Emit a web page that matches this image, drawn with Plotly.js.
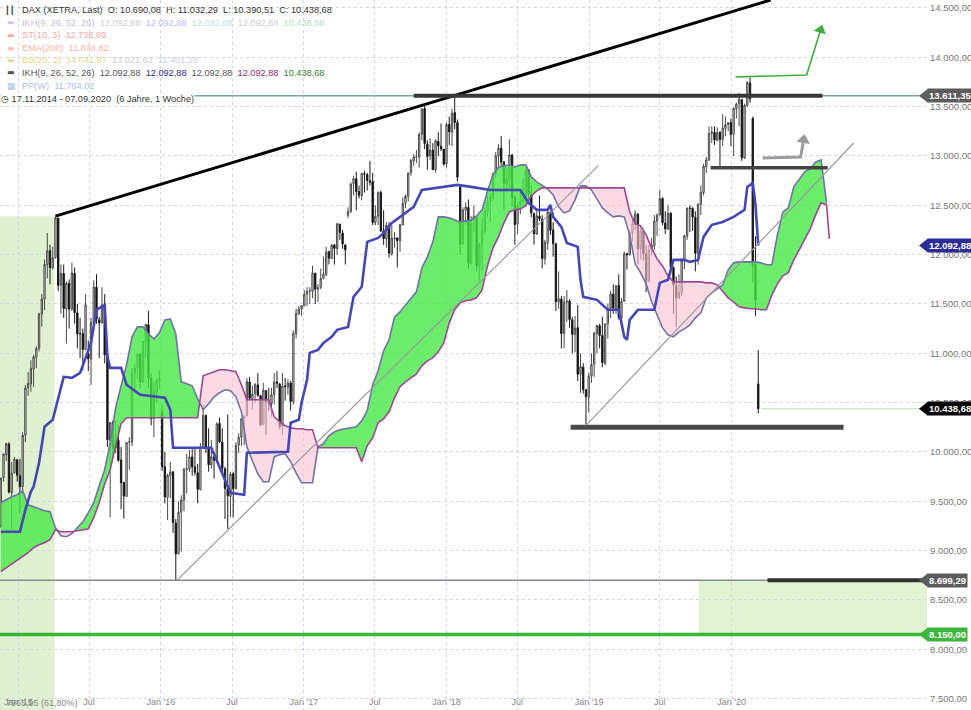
<!DOCTYPE html>
<html><head><meta charset="utf-8">
<script src="https://cdn.plot.ly/plotly-3.0.1.min.js"></script>
<style>html,body{margin:0;padding:0;background:#fff}#chart{width:971px;height:710px}</style>
</head><body><div id="chart"></div>
<script>
// ---------- DATA (weekly DAX candles, week 0 = 17.11.2014) ----------
const startDate = '2014-11-17';
const opens = [
9250,9740,9970,10080,9590,9790,9920,
9760,9650,10170,10650,10690,10840,10960,11050,11400,11550,11900,12040,11870,11970,12370,11690,11810,11450,11710,11450,11810,11410,11200,11200,11040,11000,10940,11310,11670,11340,11310,11490,10980,10120,10300,10040,10120,9920,9690,9550,10100,10100,10800,10850,10990,10710,11120,11290,10750,10340,10610,10730,
10410,9850,9540,9760,9800,9280,8970,9390,9510,9820,9830,9950,9850,9790,9620,10050,10370,10040,9870,9950,9920,10290,10100,9830,9630,9550,9780,9630,10070,10150,10340,10370,10710,10540,10590,10680,10570,10280,10620,10510,10490,10580,10710,10690,10260,10670,10660,10700,10510,11200,11400,11450,
11480,11600,11630,11630,11810,11650,11670,11760,11800,12030,11960,12100,12060,12310,12220,12100,12400,12440,12720,12770,12640,12600,12820,12810,12750,12740,12330,12390,12630,12240,12160,12300,12010,12160,12170,12140,12300,12520,12590,12830,12950,12990,12990,13220,13480,13120,13000,13060,12860,13150,13100,13070,
12920,13320,13240,13440,13340,12690,12110,12450,12480,11910,12350,12380,11880,12100,12240,12440,12540,12580,12820,13000,13080,12940,12720,12770,13010,12580,12310,12500,12540,12560,12860,12610,12420,12210,12390,12360,11960,12120,12430,12250,12110,11520,11550,11200,11520,11530,11340,11190,11260,10790,10860,10630,10560,
10770,10890,11200,11280,11180,10900,11300,11460,11600,11460,11690,11360,11530,12010,12000,12220,12310,12410,12060,12240,12010,11730,12050,12090,12340,12400,12570,12320,12260,12420,11870,11690,11560,11610,11940,12190,12470,12470,12380,12010,12510,12630,12890,12960,13230,13240,13160,13240,13170,13280,13320,13340,
13220,13480,13530,13570,12980,13510,13740,13380,11900,10690.08];
const highs = [
9744,9985,10093,10100,9900,9950,9930,
9930,10200,10680,10810,10930,10985,11070,11410,11600,11950,12220,12100,12080,12390,12375,11900,11900,11730,11750,11920,11870,11500,11360,11250,11600,11130,11360,11740,11802,11370,11670,11600,10990,10300,10320,10320,10270,10050,9700,10100,10150,10850,10890,11000,10995,11130,11300,11430,10800,10710,10740,10830,
10480,10000,9780,9900,9800,9320,9500,9560,9840,9980,10020,10050,10030,9880,10090,10486,10380,10240,10120,10000,10300,10350,10240,9850,10380,9800,9800,10100,10190,10340,10370,10750,10760,10670,10700,10800,10580,10700,10630,10650,10650,10800,10820,10700,10800,10750,10740,10720,11230,11450,11480,11490,
11640,11670,11670,11890,11820,11700,11860,11980,12080,12040,12110,12100,12320,12310,12250,12100,12480,12730,12800,12840,12700,12830,12850,12830,12951,12830,12500,12640,12650,12450,12330,12330,12300,12230,12170,12310,12580,12610,12830,12970,13020,13060,13240,13480,13525,13160,13180,13130,13170,13240,13330,13070,
13340,13400,13480,13597,13370,12690,12480,12530,12560,12390,12500,12380,12120,12370,12480,12600,12620,12830,13040,13120,13204,12950,12880,13170,13020,12600,12530,12640,12770,12880,12860,12700,12420,12440,12600,12400,12150,12440,12440,12330,12120,11830,11580,11580,11640,11550,11370,11380,11490,11000,10900,10640,10800,
11000,11220,11290,11300,11370,11300,11500,11630,11700,11690,11800,11560,12030,12020,12240,12360,12450,12420,12300,12250,12100,12100,12170,12400,12420,12656,12580,12440,12500,12430,11880,11780,11800,11960,12200,12480,12500,12480,12440,12520,12700,12920,12990,13300,13300,13300,13290,13250,13425,13400,13340,13380,
13490,13540,13640,13580,13530,13760,13795,13400,12185,11032.29];
const lows = [
9232,9700,9910,9580,9219,9780,9700,
9382,9580,10100,10570,10610,10660,10850,11020,11270,11440,11760,11700,11850,11960,11630,11400,11360,11100,11250,11430,11300,11050,10950,10827,11030,10820,10680,11240,11300,10950,11300,10900,10050,9338,9950,9990,9900,9420,9325,9550,9820,10060,10630,10750,10650,10700,10950,10650,10270,10150,10500,10640,
9810,9480,9310,9530,9180,8699,8960,8990,9400,9580,9800,9760,9760,9480,9610,10040,9990,9800,9830,9730,9900,10090,9800,9320,9220,9340,9340,9620,9990,10060,10070,10360,10520,10430,10500,10560,10260,10270,10175,10420,10360,10480,10650,10230,10170,10520,10580,10420,10480,11150,11390,11380,
11480,11480,11500,11560,11500,11520,11650,11750,11780,11900,11960,11900,12000,12150,12060,11900,12370,12420,12600,12450,12570,12550,12630,12650,12700,12300,12300,12300,12230,12100,12070,11970,11990,12070,11870,12030,12300,12470,12540,12800,12900,12930,12880,13160,13070,12860,12960,12860,12830,13000,13050,12900,
12880,13110,13100,13270,12740,12000,12100,12300,11860,11900,12230,11830,11730,11830,12210,12380,12330,12550,12780,12880,12880,12450,12640,12650,12490,12100,12210,12410,12480,12500,12520,12380,12100,12200,12340,11860,11900,12050,12200,11980,11430,11450,11050,11050,11320,11260,11000,11010,10720,10600,10590,10279,10400,
10700,10760,11000,11050,10860,10880,11150,11360,11400,11400,11340,11290,11520,11850,11990,12140,12250,11900,11950,11940,11620,11720,11990,12050,12190,12400,12300,12210,12250,11800,11400,11266,11550,11580,11850,12150,12230,12240,11830,11900,12400,12600,12830,12950,13130,13110,13150,12900,13100,13200,13250,13100,
13000,13380,13300,12950,12970,13500,13540,11720,11380,10390.51];
const closes = [
9732,9980,10087,9594,9786,9927,9764,
9648,10167,10649,10694,10846,10963,11050,11401,11550,11901,12039,11868,11967,12374,11688,11811,11454,11709,11447,11815,11413,11197,11197,11040,11492,10944,11315,11673,11347,11308,11490,10985,10124,10298,10038,10123,9916,9688,9553,10096,10104,10795,10850,10988,10708,11119,11293,10752,10340,10608,10727,10743,
9849,9545,9764,9798,9286,8967,9388,9513,9825,9831,9950,9851,9794,9622,10051,10374,10039,9870,9952,9917,10286,10103,9834,9631,9557,9776,9629,10066,10147,10337,10367,10713,10544,10587,10683,10573,10276,10626,10511,10490,10580,10711,10696,10259,10668,10664,10699,10513,11203,11404,11450,11481,
11599,11629,11630,11814,11651,11666,11757,11804,12027,11963,12095,12064,12313,12225,12109,12049,12438,12716,12770,12638,12602,12823,12816,12752,12733,12325,12389,12632,12240,12163,12297,12014,12165,12168,12142,12303,12519,12592,12828,12955,12991,12991,13217,13478,13127,12994,13060,12861,13153,13103,13072,12918,
13320,13245,13434,13340,12785,12107,12452,12483,11913,12346,12390,11887,12097,12241,12442,12540,12580,12819,13001,13077,12938,12724,12767,13011,12580,12306,12497,12541,12562,12860,12615,12424,12210,12394,12364,11960,12124,12431,12247,12111,11523,11554,11201,11519,11529,11342,11193,11257,10788,10866,10634,10559,10767,
10887,11205,11281,11181,10906,11299,11457,11602,11457,11685,11364,11526,12010,12000,12222,12315,12413,12060,12238,12011,11727,12045,12096,12340,12399,12568,12323,12260,12419,11872,11694,11563,11612,11939,12192,12469,12469,12381,12013,12512,12634,12894,12961,13229,13242,13163,13236,13166,13282,13318,13337,13219,
13483,13526,13576,12982,13514,13745,13579,11890,11541,10438.68];

// Ichimoku cloud (week index, Senkou Span A, Senkou Span B)
const cloudWeeks = [0,2,4,6,8,10,12,14,16,18,20,22,24,26,28,30,32,34,36,38,40,42,44,46,48,50,52,54,56,58,60,62,64,66,68,70,72,74,76,78,80,82,84,86,88,90,92,94,96,98,100,102,104,106,108,110,112,114,116,118,120,122,124,126,128,130,132,134,136,138,140,142,144,146,148,150,152,154,156,158,160,162,164,166,168,170,172,174,176,178,180,182,184,186,188,190,192,194,196,198,200,202,204,206,208,210,212,214,216,218,220,222,224,226,228,230,232,234,236,238,240,242,244,246,248,250,252,254,256,258,260,262,264,266,268,270,272,274,276,278,280,282,284,286,288,290,292,294,296,298,300,302,303];
const spanA = [
9486,9516,9546,9567,9607,9465,9445,9425,9405,9394,
9232,9151,9141,9172,9232,9293,9384,9486,9658,9820,
10093,10448,10671,10883,11167,11268,11268,11198,11147,11208,
11339,11349,11198,10711,10691,10671,10539,10428,10488,10559,
10600,10630,10620,10559,10407,10053,9911,9779,9698,9698,
9952,9972,9982,9901,9789,9688,9688,9688,10053,10083,
10164,10205,10225,10235,10245,10256,10316,10418,10681,10823,
11025,11137,11370,11420,11491,11552,11623,11866,11978,12130,
12383,12383,12373,12352,12332,12342,12352,12393,12454,12646,
12808,12889,12899,12910,12889,12910,12910,12788,12737,12697,
12666,12606,12484,12423,12444,12555,12697,12697,12656,12565,
12474,12423,12383,12393,12383,12201,11907,11816,11704,11522,
11380,11258,11187,11167,11218,11248,11289,11360,11410,11562,
11613,11653,11694,11846,11917,11927,11927,11927,11927,11917,
11897,11897,12201,12433,12474,12687,12758,12839,12869,12940,
12960,12525,null];
const spanB = [
8787,8827,8858,8898,8939,8979,9030,9060,9080,9111,
9212,9192,9192,9192,9202,9212,9222,9334,9486,9678,
9820,10063,10286,10347,10347,10347,10347,10347,10347,10347,
10347,10347,10347,10347,10347,10347,10347,10772,10792,10813,
10833,10833,10823,10813,10681,10529,10529,10529,10529,10529,
10357,10306,10266,10245,10235,10235,10225,10225,10043,10043,
10043,10043,10043,10043,10043,10043,9901,10063,10144,10296,
10336,10407,10549,10661,10711,10752,10792,10873,10924,10954,
11015,11106,11309,11441,11512,11532,11542,11562,11643,11886,
12069,12180,12322,12433,12454,12464,12494,12596,12646,12677,
12677,12677,12677,12677,12677,12677,12677,12677,12677,12677,
12677,12677,12677,12677,12677,12433,12312,12292,12201,12069,
11957,11886,11785,11724,11724,11724,11724,11724,11724,11714,
11714,11694,11623,11562,11522,11471,11461,11451,11451,11441,
11441,11593,11704,11785,11816,11947,12049,12150,12261,12403,
12525,12504,12160];
// Kijun-sen
const kijunWeeks = [0,7,9,11,12,14,16,19,23,26,29,33,35,38,39,40,44,46,51,60,62,63,77,80,84,89,90,105,106,109,110,112,113,116,118,121,123,127,129,132,134,138,140,143,146,151,154,163,167,172,179,190,193,196,200,201,202,205,207,211,212,213,218,222,226,228,229,230,233,239,241,244,246,250,252,255,257,260,264,268,271,272,273,275,276,277];
const kijunValues = [9192,9192,9415,9597,9648,9891,10256,10326,10762,10752,10802,11106,11441,11491,10964,10853,10853,10681,10580,10549,10428,10043,10043,9850,9587,9567,9992,10002,10296,10326,10499,10732,11005,11035,11106,11167,11238,11268,11572,11674,12130,12170,12221,12322,12383,12484,12656,12687,12707,12687,12656,12656,12525,12454,12454,12504,12383,12281,12119,12079,11745,11572,11542,11441,11441,11167,11137,11339,11441,11441,11714,11745,11947,11947,11927,11947,12180,12302,12332,12383,12433,12454,12687,12727,12500,12093];

// Drawn tools (trend lines, arrows, levels)
const resistanceTrendWeeks = [20, 281.5], resistanceTrendPrices = [12390, 14581];
const supportTrend1Weeks = [64.4, 218.6], supportTrend1Prices = [8699.29, 12905];
const supportTrend2Weeks = [214.4, 311.9], supportTrend2Prices = [10279, 13132];
const greenArrowWeeks = [268.7, 294.7, 299.8], greenArrowPrices = [13801, 13821, 14277];
const grayArrowWeeks = [278.6, 292.5, 293.6], grayArrowPrices = [12980, 12990, 13163];
const levelAth = 13611.35, levelMid = 12880, levelLow18 = 10250, levelLow16 = 8699.29, levelFib = 8150, lastClose = 10438.68, kijunLast = 12092.88;
const fibZoneTop = 12390;

// Axis ticks
const xTickVals = ['2015-01-01','2015-07-01','2016-01-01','2016-07-01','2017-01-01','2017-07-01','2018-01-01','2018-07-01','2019-01-01','2019-07-01','2020-01-01'];
const xTickText = ["Jan '15","Jul","Jan '16","Jul","Jan '17","Jul","Jan '18","Jul","Jan '19","Jul","Jan '20"];
const yTickVals = [7500,8000,8500,9000,9500,10000,10500,11000,11500,12000,12500,13000,13500,14000,14500];

// ---------- BUILD ----------
const DAY = 86400000;
const t0 = Date.parse(startDate + 'T00:00:00Z');
function wDate(w){ return new Date(t0 + w*7*DAY).toISOString().slice(0,19).replace('T',' '); }
const X_START = '2014-11-15', X_END = '2021-05-15';
const PW = 927; // plot width in px
const candleDates = closes.map((_, i) => wDate(i));

const traces = [];
traces.push({type:'candlestick', x:candleDates, open:opens, high:highs, low:lows, close:closes,
  increasing:{line:{color:'#4a4a4a', width:1}, fillcolor:'#e2e2e2'},
  decreasing:{line:{color:'#1a1a1a', width:1}, fillcolor:'#0a0a0a'},
  whiskerwidth:0, hoverinfo:'skip', showlegend:false});

// cloud pieces coloured by which span is on top
const pieces = []; let cur = null;
for (let i = 0; i < cloudWeeks.length; i++) {
  const a = spanA[i], b = spanB[i];
  if (a == null || b == null) { cur = null; continue; }
  const up = a >= b;
  if (!cur) { cur = {up, w:[cloudWeeks[i]], a:[a], b:[b]}; pieces.push(cur); continue; }
  if (up === cur.up) { cur.w.push(cloudWeeks[i]); cur.a.push(a); cur.b.push(b); }
  else {
    const w0 = cloudWeeks[i-1], a0 = spanA[i-1], b0 = spanB[i-1];
    const d0 = a0 - b0, d1 = a - b, t = d0 / (d0 - d1);
    const wc = w0 + t*(cloudWeeks[i]-w0), vc = a0 + t*(a - a0);
    cur.w.push(wc); cur.a.push(vc); cur.b.push(vc);
    cur = {up, w:[wc, cloudWeeks[i]], a:[vc, a], b:[vc, b]}; pieces.push(cur);
  }
}
pieces.forEach(p => {
  const xs = p.w.map(wDate).concat(p.w.slice().reverse().map(wDate));
  const ys = p.a.concat(p.b.slice().reverse());
  traces.push({type:'scatter', mode:'lines', x:xs, y:ys, fill:'toself',
    fillcolor: p.up ? 'rgba(70,232,70,0.80)' : 'rgba(248,196,212,0.62)',
    line:{width:0}, hoverinfo:'skip', showlegend:false});
});
traces.push({type:'scatter', mode:'lines', x:cloudWeeks.map(wDate), y:spanA, line:{color:'#7272a6', width:1.6}, hoverinfo:'skip', showlegend:false});
traces.push({type:'scatter', mode:'lines', x:cloudWeeks.map(wDate), y:spanB, line:{color:'#9c4894', width:1.6}, hoverinfo:'skip', showlegend:false});
traces.push({type:'scatter', mode:'lines', x:kijunWeeks.map(wDate), y:kijunValues, line:{color:'#4646b4', width:2.6}, hoverinfo:'skip', showlegend:false});

// trend lines and arrows
traces.push({type:'scatter', mode:'lines', x:resistanceTrendWeeks.map(wDate), y:resistanceTrendPrices, line:{color:'#000', width:3}, hoverinfo:'skip', showlegend:false});
traces.push({type:'scatter', mode:'lines', x:supportTrend1Weeks.map(wDate), y:supportTrend1Prices, line:{color:'#9a9a9a', width:1.2}, hoverinfo:'skip', showlegend:false});
traces.push({type:'scatter', mode:'lines', x:supportTrend2Weeks.map(wDate), y:supportTrend2Prices, line:{color:'#9a9a9a', width:1.2}, hoverinfo:'skip', showlegend:false});
traces.push({type:'scatter', mode:'lines', x:greenArrowWeeks.map(wDate), y:greenArrowPrices, line:{color:'#3fae3f', width:1.6}, hoverinfo:'skip', showlegend:false});
traces.push({type:'scatter', mode:'markers', x:[wDate(greenArrowWeeks[2])], y:[greenArrowPrices[2]], marker:{symbol:'triangle-up', size:11, angle:17, color:'#3fae3f'}, hoverinfo:'skip', showlegend:false});
traces.push({type:'scatter', mode:'lines', x:grayArrowWeeks.map(wDate), y:grayArrowPrices, line:{color:'#9c9c9c', width:3}, hoverinfo:'skip', showlegend:false});
traces.push({type:'scatter', mode:'markers', x:[wDate(grayArrowWeeks[2])], y:[grayArrowPrices[2]], marker:{symbol:'triangle-up', size:12, angle:10, color:'#9c9c9c'}, hoverinfo:'skip', showlegend:false});

// shapes
const shapes = [
  {type:'rect', layer:'below', xref:'x', yref:'y', x0:X_START, x1:wDate(19.7), y0:7300, y1:fibZoneTop, fillcolor:'#e0f1d2', line:{width:0}},
  {type:'rect', layer:'below', xref:'x', yref:'y', x0:wDate(255.2), x1:X_END, y0:levelFib, y1:levelLow16, fillcolor:'#e2f3d4', line:{width:0}},
  {type:'line', xref:'paper', yref:'y', x0:0, x1:1, y0:levelAth, y1:levelAth, line:{color:'#7aa9a2', width:1.5}},
  {type:'line', xref:'x', yref:'y', x0:wDate(151), x1:wDate(300.5), y0:levelAth, y1:levelAth, line:{color:'#383838', width:4}},
  {type:'line', xref:'x', yref:'y', x0:wDate(259.6), x1:wDate(302.4), y0:levelMid, y1:levelMid, line:{color:'#444', width:3.5}},
  {type:'line', xref:'x', yref:'y', x0:wDate(208.4), x1:wDate(308.2), y0:levelLow18, y1:levelLow18, line:{color:'#4a4a4a', width:5}},
  {type:'line', xref:'paper', yref:'y', x0:0, x1:1, y0:levelLow16, y1:levelLow16, line:{color:'#8a8a8a', width:1.5}},
  {type:'line', xref:'x', yref:'y', x0:wDate(280.4), x1:X_END, y0:levelLow16, y1:levelLow16, line:{color:'#333', width:4}},
  {type:'line', xref:'paper', yref:'y', x0:0, x1:1, y0:levelFib, y1:levelFib, line:{color:'#35b935', width:3.5}},
  {type:'line', xref:'x', yref:'y', x0:wDate(278), x1:X_END, y0:lastClose, y1:lastClose, line:{color:'#bfe3bf', width:1}}
];
function tag(v, bg){
  const h = 7*10.13, tip = 1 - 8/PW;
  shapes.push({type:'path', xref:'paper', yref:'y', path:`M ${tip},${v} L 1.001,${v+h} L 1.001,${v-h} Z`, fillcolor:bg, line:{width:0}});
}
tag(levelAth, '#5c5c5c'); tag(kijunLast, '#2c2c96'); tag(lastClose, '#000'); tag(levelLow16, '#5c5c5c'); tag(levelFib, '#3cb53c');

const fmt = v => v.toLocaleString('de-DE', {minimumFractionDigits:2, maximumFractionDigits:2});
const annotations = [];
function tagText(v, bg){
  annotations.push({xref:'paper', yref:'y', x:1, y:v, xanchor:'left', yanchor:'middle', xshift:0, showarrow:false,
    text:'<b>'+fmt(v)+'</b>', bgcolor:bg, borderpad:1, font:{color:'#fff', size:9.5, family:'Liberation Sans, Arial'}});
}
tagText(levelAth, '#5c5c5c'); tagText(kijunLast, '#2c2c96'); tagText(lastClose, '#000'); tagText(levelLow16, '#5c5c5c'); tagText(levelFib, '#3cb53c');

function sp(s, c){ return '<span style="color:'+c+'">'+s+'</span>'; }
const G = '\u00a0\u00a0';
const LF = 9.2;
function row(py, px, text, opts){
  annotations.push(Object.assign({xref:'paper', yref:'paper', x:px/PW, y:1-py/710, xanchor:'left', yanchor:'middle', showarrow:false, align:'left',
    text, font:{size:LF, family:'Liberation Sans, Arial', color:'#333'}}, opts||{}));
}
const ikh = 'IKH(9, 26, 52, 26)';
row(10, 3, sp('┃┃', '#444'), {font:{size:8, family:'DejaVu Sans', color:'#444'}});
row(10, 20, 'DAX (XETRA, Last)'+G+'O: 10.690,08'+G+'H: 11.032,29'+G+'L: 10.390,51'+G+'C: 10.438,68');
row(23, 5, sp('▬', '#d8c8e8'), {font:{size:8, family:'DejaVu Sans'}});
row(23, 20, sp(ikh,'#c9bcd8')+G+sp('12.092,88','#cfcfcf')+G+sp('12.092,88','#b9bde8')+G+sp('12.092,88','#bcdde8')+G+sp('12.092,88','#cfcfcf')+G+sp('10.438,68','#bcdcbc'));
row(35, 5, sp('▬', '#f6b0b0'), {font:{size:8, family:'DejaVu Sans'}});
row(35, 20, sp('ST(10, 3)','#f4a8a8')+G+sp('12.736,89','#f4a8a8'));
row(48, 5, sp('▬', '#f6c0b0'), {font:{size:8, family:'DejaVu Sans'}});
row(48, 20, sp('EMA(200)','#f4b6a6')+G+sp('11.834,82','#f4b6a6'));
row(60, 5, sp('▬', '#eadc98'), {font:{size:8, family:'DejaVu Sans'}});
row(60, 20, sp('BB(20, 2)','#e6d88e')+G+sp('14.041,97','#e6d88e')+G+sp('13.021,62','#cfcfcf')+G+sp('11.401,28','#cfcfcf'));
row(73, 5, sp('▬', '#555'), {font:{size:8, family:'DejaVu Sans'}});
row(73, 20, sp(ikh,'#555')+G+sp('12.092,88','#555')+G+sp('12.092,88','#2a2a8c')+G+sp('12.092,88','#555')+G+sp('12.092,88','#8a2a6c')+G+sp('10.438,68','#3a7a3a'));
row(86, 5, sp('▦', '#a8c6ea'), {font:{size:9, family:'DejaVu Sans'}});
row(86, 20, sp('PP(W)','#a8c4e8')+G+sp('11.764,02','#a8c4e8'));
row(99, 0, sp('◷','#333')+'\u00a017.11.2014 - 07.09.2020\u00a0\u00a0(6 Jahre, 1 Woche)', {bgcolor:'#fff', borderpad:0, font:{size:LF, family:'Liberation Sans, DejaVu Sans', color:'#333'}});
row(703, 4, '7965,95 (61,80%)', {font:{size:9, family:'Liberation Sans, Arial', color:'#888'}});

const layout = {
  width:971, height:710,
  margin:{l:0, r:971-PW, t:0, b:0, pad:0},
  paper_bgcolor:'#fff', plot_bgcolor:'#fff',
  separators:',.', showlegend:false, dragmode:false,
  font:{family:'Liberation Sans, Arial, sans-serif', size:10, color:'#777'},
  xaxis:{type:'date', range:[X_START, X_END], rangeslider:{visible:false},
    anchor:'free', position:0.021, side:'bottom',
    tickvals:xTickVals, ticktext:xTickText, ticklabelposition:'outside', ticks:'',
    showgrid:true, gridcolor:'#d3d6e8', griddash:'dot', gridwidth:1, zeroline:false, showline:false,
    tickfont:{size:9, color:'#888'}, ticklabelstandoff:0, ticklabeloverflow:'allow'},
  yaxis:{side:'right', range:[7385, 14581], tickvals:yTickVals, tickformat:',.2f', ticks:'',
    showgrid:true, gridcolor:'#d3d6e8', griddash:'dot', gridwidth:1, zeroline:false, showline:false,
    tickfont:{size:9.5, color:'#777'}, ticklabelstandoff:2, ticklabeloverflow:'allow'},
  shapes, annotations
};
Plotly.newPlot('chart', traces, layout, {displayModeBar:false, staticPlot:true});
</script>
</body></html>
